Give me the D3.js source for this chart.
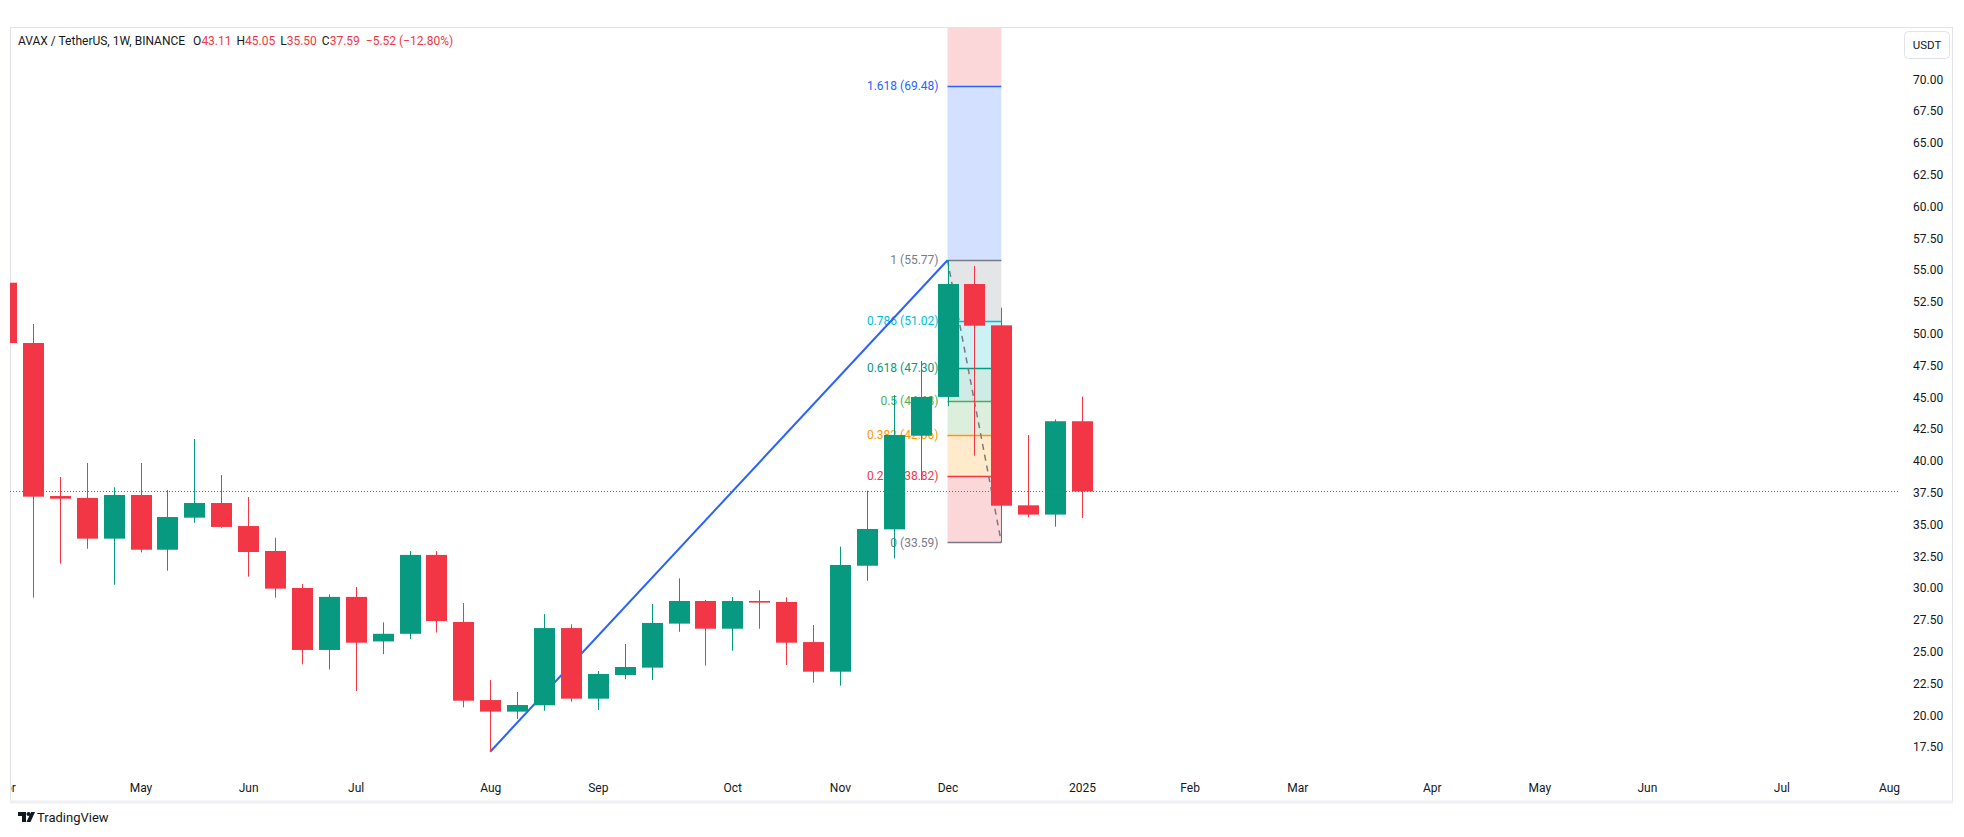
<!DOCTYPE html>
<html><head><meta charset="utf-8">
<script src="https://cdn.jsdelivr.net/npm/d3@7"></script>
<style>
html,body{margin:0;padding:0;background:#fff;}
svg{display:block;font-family:Roboto,"Liberation Sans",sans-serif;}
</style></head>
<body>
<svg id="chart" width="1964" height="837"></svg>
<script>
// ---- data ----
const weeks = ["2024-04-01","2024-04-08","2024-04-15","2024-04-22","2024-04-29","2024-05-06","2024-05-13","2024-05-20","2024-05-27","2024-06-03","2024-06-10","2024-06-17","2024-06-24","2024-07-01","2024-07-08","2024-07-15","2024-07-22","2024-07-29","2024-08-05","2024-08-12","2024-08-19","2024-08-26","2024-09-02","2024-09-09","2024-09-16","2024-09-23","2024-09-30","2024-10-07","2024-10-14","2024-10-21","2024-10-28","2024-11-04","2024-11-11","2024-11-18","2024-11-25","2024-12-02","2024-12-09","2024-12-16","2024-12-23","2024-12-30","2025-01-06"];
const open  = [54.00,49.26,37.23,37.08,33.88,37.31,33.01,35.53,36.68,34.87,32.91,30.00,25.13,29.30,25.80,26.40,32.60,27.33,21.19,20.28,20.78,26.85,21.30,23.16,23.74,27.20,28.98,26.80,28.98,28.90,25.75,23.42,31.75,34.61,41.97,45.02,53.90,50.65,36.50,35.77,43.11];
const high  = [55.40,50.75,38.73,39.83,37.92,39.83,37.70,41.71,38.88,37.15,33.95,30.31,29.50,30.08,27.30,32.90,32.90,28.82,22.77,21.82,27.95,27.15,23.47,25.60,28.74,30.76,29.06,29.29,29.82,29.27,27.09,33.25,37.65,45.17,47.85,55.77,55.31,52.04,42.03,43.25,45.05];
const low   = [48.60,29.24,31.91,33.09,30.26,32.80,31.36,35.13,34.74,30.89,29.24,24.00,23.60,21.90,24.80,26.00,26.50,20.62,17.13,19.70,20.35,21.06,20.41,22.82,22.77,26.56,23.90,25.07,26.80,23.95,22.56,22.32,30.57,32.33,38.49,44.30,40.40,33.59,35.56,34.82,35.50];
const close = [49.26,37.18,37.02,33.88,37.31,33.01,35.58,36.68,34.80,32.83,29.95,25.13,29.30,25.70,26.40,32.60,27.40,21.14,20.28,20.80,26.85,21.30,23.24,23.79,27.25,28.98,26.80,28.98,28.85,25.70,23.42,31.81,34.64,42.03,45.02,53.90,50.62,36.47,35.77,43.11,37.59];

const priceTicks = [17.5,20,22.5,25,27.5,30,32.5,35,37.5,40,42.5,45,47.5,50,52.5,55,57.5,60,62.5,65,67.5,70];
const timeTickDates  = ["2024-04-01","2024-05-06","2024-06-03","2024-07-01","2024-08-05","2024-09-02","2024-10-07","2024-11-04","2024-12-02","2025-01-06","2025-02-03","2025-03-03","2025-04-07","2025-05-05","2025-06-02","2025-07-07","2025-08-04"];
const timeTickLabels = ["Apr","May","Jun","Jul","Aug","Sep","Oct","Nov","Dec","2025","Feb","Mar","Apr","May","Jun","Jul","Aug"];

// fib retracement drawing
const fibFrom = {date:"2024-12-02", price:55.77};
const fibTo   = {date:"2024-12-16", price:33.59};
const fibRatios = [0,0.236,0.382,0.5,0.618,0.786,1,1.618,2.618];
const fibColors = ["#787b86","#f23645","#ff9800","#4caf50","#089981","#00bcd4","#787b86","#2962ff","#f23645"];
// trend line drawing
const trendFrom = {date:"2024-08-05", price:17.13};
const trendTo   = {date:"2024-12-02", price:55.77};
const lastPrice = 37.59;

// ---- layout ----
const svg = d3.select("#chart");
const frame = {l:10, t:27, r:1953, b:802};
const plot = {l:10, t:28, r:1900, b:775};
const up = "#089981", down = "#f23645";
const pd = s => new Date(s+"T00:00:00Z");

const x = d3.scaleUtc().domain([pd("2024-04-01"), pd("2025-01-06")]).range([6, 1082]);
const y = d3.scaleLinear().domain([17.5, 70]).range([747, 79.2]);
const bw = 21;

const defs = svg.append("defs");
defs.append("clipPath").attr("id","plotClip").append("rect")
  .attr("x",plot.l).attr("y",plot.t).attr("width",plot.r-plot.l).attr("height",plot.b-plot.t);
defs.append("clipPath").attr("id","timeClip").append("rect")
  .attr("x",frame.l+1).attr("y",plot.b).attr("width",frame.r-frame.l-2).attr("height",frame.b-plot.b);

// frame
svg.append("rect").attr("x",frame.l+0.5).attr("y",frame.t+0.5)
  .attr("width",frame.r-frame.l-1).attr("height",frame.b-frame.t-1)
  .attr("fill","none").attr("stroke","#e0e3eb").attr("stroke-width",1);
svg.append("line").attr("x1",frame.l).attr("x2",frame.r).attr("y1",frame.b).attr("y2",frame.b)
  .attr("stroke","#eef0f4").attr("stroke-width",3);

const g = svg.append("g").attr("clip-path","url(#plotClip)");

// fib retracement
const fx1 = x(pd(fibFrom.date)), fx2 = x(pd(fibTo.date));
const fibVals = fibRatios.map(r => fibTo.price + (fibFrom.price - fibTo.price)*r);
const fibG = g.append("g");
for (let i=1;i<fibRatios.length;i++){
  fibG.append("rect").attr("x",fx1).attr("width",fx2-fx1)
    .attr("y",y(fibVals[i])).attr("height",y(fibVals[i-1])-y(fibVals[i]))
    .attr("fill",fibColors[i]).attr("fill-opacity",0.2);
}
fibRatios.forEach((r,i)=>{
  const yy = y(fibVals[i]);
  if (yy < plot.t || yy > plot.b) return; // level outside the visible pane
  fibG.append("line").attr("x1",fx1).attr("x2",fx2)
    .attr("y1",Math.round(yy)+0.5).attr("y2",Math.round(yy)+0.5)
    .attr("stroke",fibColors[i]).attr("stroke-width",1.5);
  fibG.append("text").attr("x",fx1-9).attr("y",yy).attr("dy","0.35em")
    .attr("text-anchor","end").attr("font-size",12).attr("fill",fibColors[i])
    .text(`${r} (${fibVals[i].toFixed(2)})`);
});
fibG.append("line").attr("x1",fx1).attr("y1",y(fibFrom.price)).attr("x2",fx2).attr("y2",y(fibTo.price))
  .attr("stroke","#787b86").attr("stroke-width",1.5).attr("stroke-dasharray","6,5");

// trend line
g.append("line").attr("x1",x(pd(trendFrom.date))).attr("y1",y(trendFrom.price))
  .attr("x2",x(pd(trendTo.date))).attr("y2",y(trendTo.price))
  .attr("stroke","#2962ff").attr("stroke-width",2);

// candles
const data = weeks.map((w,i)=>({d:pd(w),o:open[i],h:high[i],l:low[i],c:close[i]}));
const cg = g.append("g");
data.forEach(d=>{
  const col = d.c>=d.o ? up : down;
  const cx = Math.round(x(d.d));
  cg.append("rect").attr("x",cx).attr("width",1)
    .attr("y",y(d.h)).attr("height",y(d.l)-y(d.h)).attr("fill",col);
  const top = y(Math.max(d.o,d.c)), bot = y(Math.min(d.o,d.c));
  cg.append("rect").attr("x",cx-10).attr("width",bw)
    .attr("y",top).attr("height",Math.max(1.5,bot-top)).attr("fill",col);
});

// last price line
g.append("line").attr("x1",plot.l).attr("x2",plot.r)
  .attr("y1",Math.round(y(lastPrice))+0.5).attr("y2",Math.round(y(lastPrice))+0.5)
  .attr("stroke",down).attr("stroke-width",1).attr("stroke-dasharray","1,2");

// price axis
const ya = svg.append("g").attr("transform","translate(1905,0)")
  .call(d3.axisRight(y).tickValues(priceTicks).tickFormat(d3.format(".2f")).tickSize(0).tickPadding(8));
ya.select(".domain").remove();
ya.selectAll("text").attr("font-size",12).attr("fill","#131722").attr("font-family","Roboto,'Liberation Sans',sans-serif");

// USDT box
svg.append("rect").attr("x",1904.5).attr("y",31.5).attr("width",45).attr("height",27).attr("rx",4)
  .attr("fill","#fff").attr("stroke","#e0e3eb");
svg.append("text").attr("x",1927).attr("y",45).attr("dy","0.35em").attr("text-anchor","middle")
  .attr("font-size",11.5).attr("fill","#131722").text("USDT");

// time axis
const xa = svg.append("g").attr("clip-path","url(#timeClip)").append("g").attr("transform",`translate(0,${plot.b})`)
  .call(d3.axisBottom(x).tickValues(timeTickDates.map(pd)).tickFormat((d,i)=>timeTickLabels[i]).tickSize(0).tickPadding(8));
xa.select(".domain").remove();
xa.selectAll("text").attr("font-size",12).attr("fill","#131722").attr("font-family","Roboto,'Liberation Sans',sans-serif");

// header
const hdr = svg.append("text").attr("x",18).attr("y",45).attr("font-size",12).attr("fill","#131722");
hdr.append("tspan").text("AVAX / TetherUS, 1W, BINANCE ");
const ohlc = [["O","43.11"],["H","45.05"],["L","35.50"],["C","37.59"]];
ohlc.forEach(([k,v])=>{
  hdr.append("tspan").attr("dx",5).text(k);
  hdr.append("tspan").attr("fill",down).text(v);
});
hdr.append("tspan").attr("dx",6).attr("fill",down).text("\u22125.52 (\u221212.80%)");

// TradingView logo
const lg = svg.append("g").attr("transform","translate(18,812)");
lg.append("path").attr("d","M0 0 H8 V10 H4 V4 H0 Z").attr("fill","#131722");
lg.append("circle").attr("cx",10.5).attr("cy",2).attr("r",2).attr("fill","#131722");
lg.append("path").attr("d","M13 0 H17 L12.5 10 H8.5 Z").attr("fill","#131722");
svg.append("text").attr("x",37).attr("y",822).attr("font-size",13).attr("fill","#131722").text("TradingView");
</script>
</body></html>
